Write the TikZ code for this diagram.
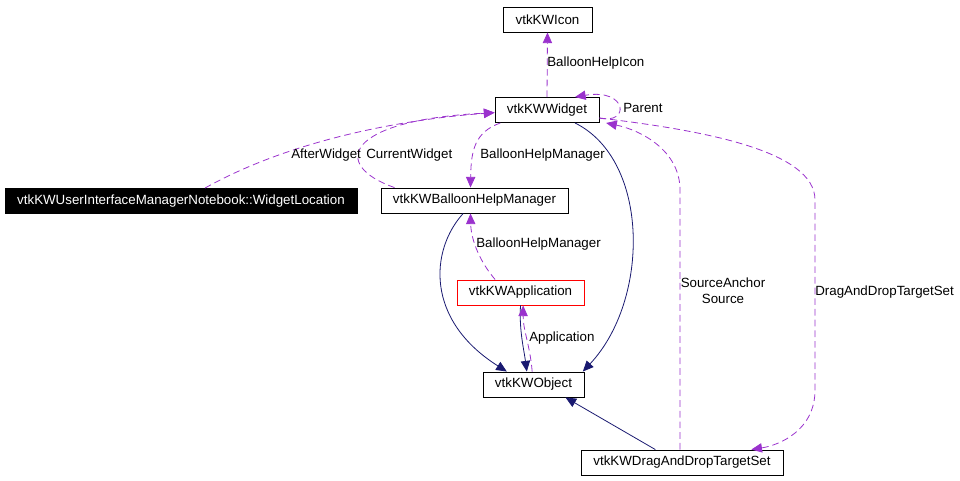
\documentclass[tikz,border=0pt]{standalone}
\usepackage{fontspec}
\setmainfont{Liberation Sans}
\usetikzlibrary{arrows.meta}
\definecolor{dep}{HTML}{9A32CD}
\definecolor{inh}{HTML}{191970}

\begin{document}
\begin{tikzpicture}[x=0.75pt, y=-0.75pt, font=\fontsize{10}{12}\selectfont,
    cls/.style={draw, line width=0.7pt, minimum height=18.75pt, inner sep=0pt},
    use/.style={dep, line width=0.6pt, dash pattern=on 5pt off 3pt, -{Triangle[length=8pt, width=7pt]}},
    isa/.style={inh, line width=0.6pt, -{Triangle[length=8pt, width=7pt]}},
    lbl/.style={anchor=west, inner sep=0pt}]{

    \useasboundingbox (0,0) rectangle (960,480);

    \node [cls, minimum width=66.75pt] (Icon) at (547.5,19.5) {vtkKWIcon};
    \node [cls, minimum width=78pt] (Widget) at (547,110) {vtkKWWidget};
    \node [cls, fill=black, text=white, minimum width=264pt] (Loc) at (181,201) {vtkKWUserInterfaceManagerNotebook::WidgetLocation};
    \node [cls, minimum width=140.25pt] (BHM) at (474.5,200.5) {vtkKWBalloonHelpManager};
    \node [cls, draw=red, minimum width=95.25pt] (App) at (520.5,292.5) {vtkKWApplication};
    \node [cls, minimum width=75.75pt] (Obj) at (533.5,384.5) {vtkKWObject};
    \node [cls, minimum width=151.5pt] (DnD) at (682,462.5) {vtkKWDragAndDropTargetSet};

    % inheritance
    \draw [isa] ([xshift=-8.5pt]BHM.south) .. controls (430,250) and (425,320) .. ([xshift=-20pt]Obj.north);
    \draw [isa] ([xshift=0pt]App.south) .. controls (519,330) and (524,350) .. ([xshift=-5pt]Obj.north);
    \draw [isa] ([xshift=21pt]Widget.south) .. controls (650,160) and (650,300) .. ([xshift=37pt]Obj.north);
    \draw [isa] ([xshift=-20pt]DnD.north) -- ([xshift=24pt]Obj.south);

    % usage
    \draw [use] (Widget.north) -- (Icon.south);
    \draw [use] ([yshift=-6pt]Widget.east) .. controls (630,125) and (628,88) .. ([xshift=21pt]Widget.north);
    \draw [use] ([xshift=18pt]Loc.north) .. controls (300,135) and (420,118) .. ([yshift=-2pt]Widget.west);
    \draw [use] ([xshift=-60pt]BHM.north) .. controls (330,165) and (345,120) .. ([yshift=-2pt]Widget.west);
    \draw [use] ([xshift=-35pt]Widget.south) .. controls (475,132) and (471,150) .. ([xshift=-3pt]BHM.north);
    \draw [use] ([xshift=-19pt]App.north) .. controls (480,262) and (471,240) .. ([xshift=-3pt]BHM.north|-BHM.south);
    \draw [use] ([xshift=-1pt]Obj.north) .. controls (530,345) and (523,330) .. ([xshift=2pt]App.south);
    \draw [use] ([xshift=-1.5pt]DnD.north) -- (680,190) .. controls (680,150) and (640,130) .. ([xshift=5pt]Widget.south east);
    \draw [use] ([yshift=-6pt]Widget.east) .. controls (700,130) and (815,150) .. (815,200) -- (815,390) .. controls (815,430) and (780,445) .. ([xshift=52pt]DnD.north);

    % labels
    \node [lbl] (lIcon) at (547,63) {BalloonHelpIcon};
    \node [lbl] (lParent) at (623,108) {Parent};
    \node [lbl] (lAfter) at (291,155) {AfterWidget};
    \node [lbl] (lCurrent) at (366,155) {CurrentWidget};
    \node [lbl] (lBHM) at (480,155) {BalloonHelpManager};
    \node [lbl] (lBHMb) at (476,244) {BalloonHelpManager};
    \node [lbl] (lApp) at (529,338) {Application};
    \node [align=center, inner sep=0pt] (lSrc) at (723,291) {SourceAnchor\\Source};
    \node [lbl] (lDnD) at (815,292) {DragAndDropTargetSet};
    }
\end{tikzpicture}
\end{document}
